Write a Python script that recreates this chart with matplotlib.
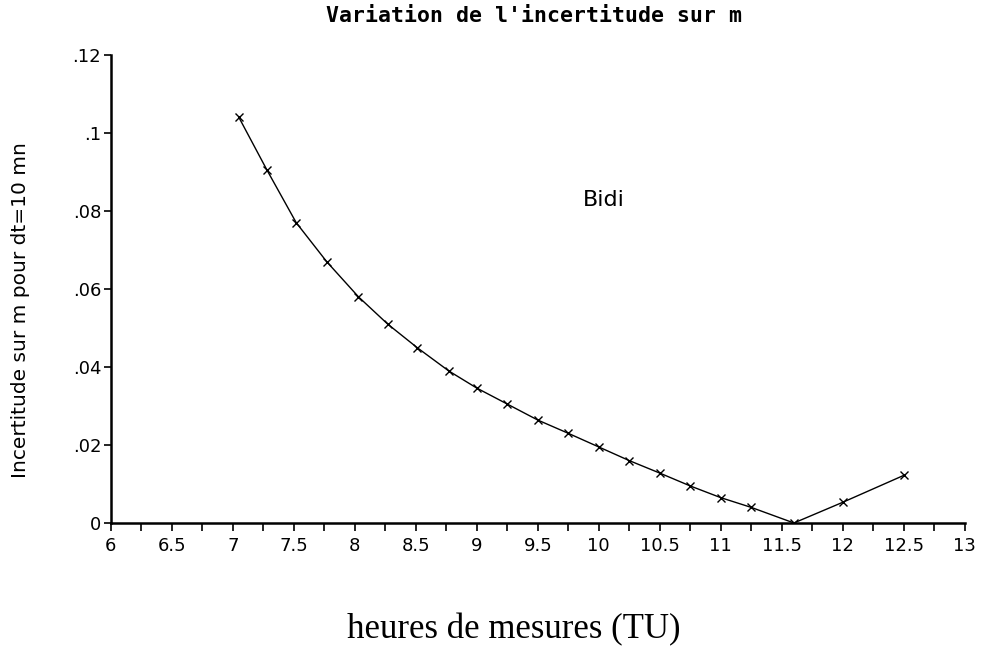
import matplotlib
matplotlib.use("Agg")
import matplotlib.pyplot as plt
from matplotlib.ticker import MultipleLocator, FixedLocator, FixedFormatter

# heures de mesures (TU) et incertitude sur m
heures = [7.05, 7.28, 7.52, 7.77, 8.03, 8.27, 8.51, 8.77, 9.0, 9.25, 9.5,
          9.75, 10.0, 10.25, 10.5, 10.75, 11.0, 11.25, 11.6, 12.0, 12.5]
incertitude = [0.104, 0.0905, 0.077, 0.067, 0.058, 0.051, 0.045, 0.039,
               0.0346, 0.0305, 0.0264, 0.023, 0.0195, 0.016, 0.0128, 0.0095,
               0.0065, 0.004, 0.0, 0.0053, 0.0122]

xticks = [6, 6.5, 7, 7.5, 8, 8.5, 9, 9.5, 10, 10.5, 11, 11.5, 12, 12.5, 13]
xtick_labels = ["6", "6.5", "7", "7.5", "8", "8.5", "9", "9.5", "10", "10.5",
                "11", "11.5", "12", "12.5", "13"]
yticks = [0, 0.02, 0.04, 0.06, 0.08, 0.10, 0.12]
ytick_labels = ["0", ".02", ".04", ".06", ".08", ".1", ".12"]

fig = plt.figure(figsize=(10.08, 6.59), dpi=100)
ax = fig.add_axes([0.110, 0.2064, 0.847, 0.710])

ax.plot(heures, incertitude, color="black", linewidth=1.0,
        marker="x", markersize=6, markeredgewidth=1.0)

ax.set_xlim(6, 13)
ax.set_ylim(0, 0.12)

ax.xaxis.set_major_locator(FixedLocator(xticks))
ax.xaxis.set_major_formatter(FixedFormatter(xtick_labels))
ax.xaxis.set_minor_locator(MultipleLocator(0.25))
ax.yaxis.set_major_locator(FixedLocator(yticks))
ax.yaxis.set_major_formatter(FixedFormatter(ytick_labels))

for s in ["top", "right"]:
    ax.spines[s].set_visible(False)
for s in ["left", "bottom"]:
    ax.spines[s].set_linewidth(1.8)

ax.tick_params(axis="x", which="both", direction="out", length=6, width=1.2,
               labelsize=13, pad=4)
ax.tick_params(axis="y", which="major", direction="out", length=5, width=1.2,
               labelsize=13, pad=2)

ax.text(9.87, 0.0828, "Bidi", fontsize=16, ha="left", va="center")

fig.text(0.53, 0.975, "Variation de l'incertitude sur m", ha="center",
         va="center", fontsize=15.5, fontweight="bold", family="DejaVu Sans Mono")
fig.text(0.51, 0.045, "heures de mesures (TU)", ha="center", va="center",
         fontsize=25, family="Liberation Serif")
fig.text(0.020, 0.53, "Incertitude sur m pour dt=10 mn", ha="center",
         va="center", rotation=90, fontsize=14.5)

fig.savefig("out.png", dpi=100, facecolor="white")
